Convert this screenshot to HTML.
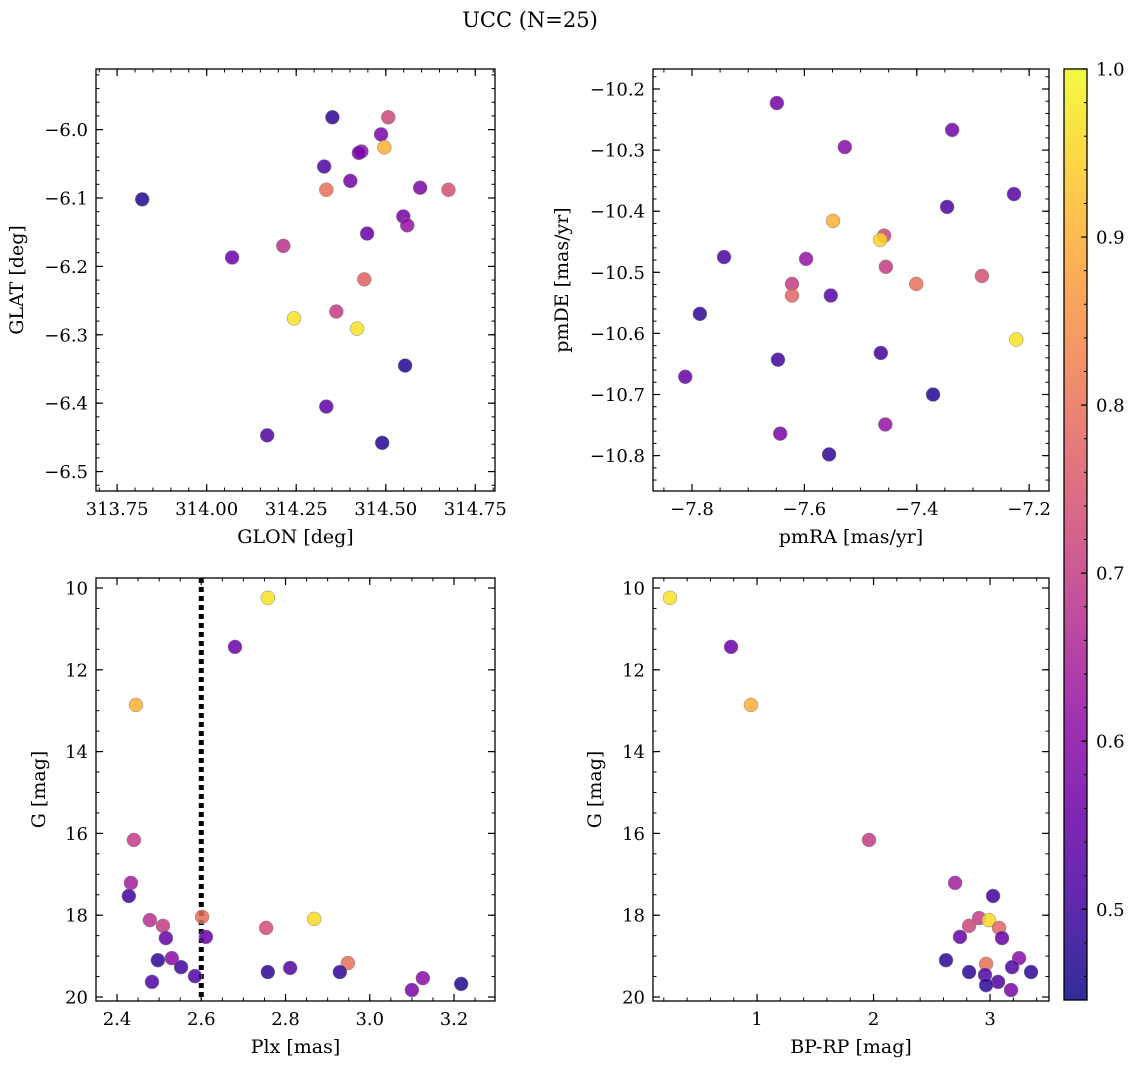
<!DOCTYPE html>
<html><head><meta charset="utf-8">
<style>
html,body{margin:0;padding:0;background:#fff;}
svg{display:block;font-family:"DejaVu Serif","Liberation Serif",serif;}
</style></head>
<body>
<svg id="fig" width="1136" height="1068" viewBox="0 0 1136 1068" xmlns="http://www.w3.org/2000/svg">
<text x="530" y="27" text-anchor="middle" font-size="21">UCC (N=25)</text>
</svg>
<script>
// ---- data (panel 1: GLON/GLAT) ----
const glon = [313.820,314.351,314.507,314.487,314.432,314.496,314.328,314.401,314.334,314.596,314.675,314.549,314.560,314.448,314.214,314.071,314.440,314.244,314.362,314.420,314.554,314.334,314.169,314.490,314.425];
const glat = [-6.102,-5.982,-5.982,-6.007,-6.032,-6.026,-6.054,-6.075,-6.088,-6.085,-6.088,-6.127,-6.140,-6.152,-6.170,-6.187,-6.219,-6.276,-6.266,-6.291,-6.345,-6.405,-6.447,-6.458,-6.034];
const c1 = [0.47,0.48,0.72,0.58,0.60,0.90,0.52,0.57,0.80,0.58,0.74,0.57,0.62,0.55,0.68,0.56,0.77,0.97,0.70,0.97,0.47,0.54,0.52,0.47,0.58];
// ---- panel 2: pmRA/pmDE ----
const pmra = [-7.649,-7.528,-7.337,-7.227,-7.346,-7.549,-7.458,-7.465,-7.743,-7.597,-7.455,-7.622,-7.284,-7.622,-7.401,-7.553,-7.786,-7.223,-7.647,-7.464,-7.812,-7.371,-7.643,-7.456,-7.556];
const pmde = [-10.223,-10.295,-10.267,-10.372,-10.393,-10.416,-10.440,-10.447,-10.475,-10.478,-10.491,-10.519,-10.506,-10.538,-10.519,-10.538,-10.568,-10.610,-10.643,-10.632,-10.671,-10.700,-10.764,-10.749,-10.798];
const c2 = [0.57,0.60,0.57,0.53,0.52,0.90,0.72,0.95,0.52,0.62,0.70,0.70,0.74,0.78,0.80,0.53,0.48,0.97,0.50,0.50,0.55,0.47,0.58,0.62,0.48];
// ---- panel 3: Plx/G ----
const plx = [2.758,2.680,2.445,2.440,2.433,2.428,2.478,2.509,2.602,2.868,2.754,2.516,2.611,2.530,2.497,2.552,2.948,2.811,2.585,2.758,2.929,3.126,2.483,3.100,3.217];
const gmag3 = [10.24,11.44,12.86,16.16,17.21,17.53,18.12,18.26,18.04,18.09,18.31,18.56,18.53,19.05,19.10,19.27,19.17,19.29,19.49,19.39,19.39,19.54,19.63,19.83,19.68];
const c3 = [0.97,0.56,0.90,0.70,0.64,0.50,0.68,0.70,0.79,0.96,0.73,0.55,0.55,0.60,0.48,0.50,0.80,0.52,0.52,0.48,0.48,0.60,0.52,0.58,0.47];
const plxLine = [2.60];
// ---- panel 4: BP-RP/G ----
const bprp = [0.253,0.777,0.948,1.961,2.700,3.026,2.906,2.991,2.820,3.077,2.742,3.103,2.622,3.249,2.966,3.189,2.820,3.352,2.957,3.069,2.966,3.180];
const gmag4 = [10.24,11.44,12.86,16.16,17.21,17.53,18.07,18.12,18.26,18.31,18.53,18.56,19.10,19.05,19.19,19.27,19.39,19.39,19.46,19.63,19.71,19.83];
const c4 = [0.97,0.56,0.90,0.70,0.64,0.50,0.70,0.96,0.72,0.78,0.55,0.55,0.48,0.60,0.80,0.52,0.48,0.48,0.52,0.52,0.48,0.58];
// ---- tick labels ----
const ticks1x = [313.75,314.00,314.25,314.50,314.75];
const ticks1y = [-6.0,-6.1,-6.2,-6.3,-6.4,-6.5];
const ticks2x = [-7.8,-7.6,-7.4,-7.2];
const ticks2y = [-10.2,-10.3,-10.4,-10.5,-10.6,-10.7,-10.8];
const ticks3x = [2.4,2.6,2.8,3.0,3.2];
const ticksG = [10,12,14,16,18,20];
const ticks4x = [1,2,3];
const ticksCb = [0.5,0.6,0.7,0.8,0.9,1.0];
const cmin = 0.446, cmax = 1.0;

const NS="http://www.w3.org/2000/svg";
const svg=document.getElementById('fig');
function mk(tag,attrs,parent){const e=document.createElementNS(NS,tag);for(const k in attrs)e.setAttribute(k,attrs[k]);(parent||svg).appendChild(e);return e;}
const stops=[[13,8,135],[65,4,157],[106,0,168],[143,13,164],[177,42,144],[204,71,120],[225,100,98],[242,132,75],[252,166,54],[252,206,37],[240,249,33]];
function plasma(t){t=Math.max(0,Math.min(1,t));const f=t*10,i=Math.min(9,Math.floor(f)),r=f-i;const a=stops[i],b=stops[i+1];
return `rgb(${Math.round(a[0]+(b[0]-a[0])*r)},${Math.round(a[1]+(b[1]-a[1])*r)},${Math.round(a[2]+(b[2]-a[2])*r)})`;}
function cnorm(v){return (v-cmin)/(cmax-cmin);}
function fmt(v,d){return (v<0?'\u2212':'')+Math.abs(v).toFixed(d);}

function panel(o){
  const {name,L,R,T,B,x0,x1,y0,y1,xs,ys,cs,xt,yt,xd,yd,xminor,yminor,xlabel,ylabel,ylx}=o;
  const sx=v=>L+(v-x0)/(x1-x0)*(R-L);
  const sy=v=>T+(v-y0)/(y1-y0)*(B-T);
  const g=mk('g',{});
  
  
  const step=(a,b,s,fn)=>{const n=Math.ceil(Math.min(a,b)/s-1e-6);for(let k=n;k*s<=Math.max(a,b)+1e-9;k++)fn(k*s);};
  step(x0,x1,xminor,v=>{const x=sx(v);mk('line',{x1:x,x2:x,y1:B,y2:B-3.5,stroke:'#000','stroke-width':1},g);mk('line',{x1:x,x2:x,y1:T,y2:T+3.5,stroke:'#000','stroke-width':1},g);});
  step(y0,y1,yminor,v=>{const y=sy(v);mk('line',{x1:L,x2:L+3.5,y1:y,y2:y,stroke:'#000','stroke-width':1},g);mk('line',{x1:R,x2:R-3.5,y1:y,y2:y,stroke:'#000','stroke-width':1},g);});
  xt.forEach(v=>{const x=sx(v);
    mk('line',{x1:x,x2:x,y1:B,y2:B-7,stroke:'#000','stroke-width':1.2},g);mk('line',{x1:x,x2:x,y1:T,y2:T+7,stroke:'#000','stroke-width':1.2},g);
    const t=mk('text',{x:x,y:B+24,'text-anchor':'middle','font-size':18},g);t.textContent=fmt(v,xd);
    
    });
  yt.forEach(v=>{const y=sy(v);
    mk('line',{x1:L,x2:L+7,y1:y,y2:y,stroke:'#000','stroke-width':1.2},g);mk('line',{x1:R,x2:R-7,y1:y,y2:y,stroke:'#000','stroke-width':1.2},g);
    const t=mk('text',{x:L-8,y:y+6.5,'text-anchor':'end','font-size':18},g);t.textContent=fmt(v,yd);
    
    });
  if(o.vline){o.vline.forEach(v=>{const ln=mk('line',{x1:sx(v),x2:sx(v),y1:T,y2:B,stroke:'#000','stroke-width':5,'stroke-dasharray':'5,4'},g);
    
    });}
  xs.forEach((v,i)=>{const c=mk('circle',{cx:sx(v),cy:sy(ys[i]),r:7,fill:plasma(cnorm(cs[i])),'fill-opacity':0.85,stroke:'#888','stroke-width':0.5},g);
    
    });
  const fr=mk('rect',{x:L,y:T,width:R-L,height:B-T,fill:'none',stroke:'#000','stroke-width':1.3},g);
  
  
  const xl=mk('text',{x:(L+R)/2,y:B+52,'text-anchor':'middle','font-size':19},g);xl.textContent=xlabel;
  
  
  const cy=(T+B)/2;
  const yl=mk('text',{x:ylx,y:cy,'text-anchor':'middle','font-size':19,transform:`rotate(-90 ${ylx} ${cy})`},g);yl.textContent=ylabel;
  
  
}
panel({name:'glon-glat',L:96,R:495,T:69,B:491,x0:313.691,x1:314.805,y0:-5.9114,y1:-6.5284,xs:glon,ys:glat,cs:c1,xt:ticks1x,yt:ticks1y,xd:2,yd:1,xminor:0.05,yminor:0.02,xlabel:'GLON [deg]',ylabel:'GLAT [deg]',ylx:23});
panel({name:'pm',L:653,R:1049,T:69,B:491,x0:-7.8694,x1:-7.1647,y0:-10.1673,y1:-10.8579,xs:pmra,ys:pmde,cs:c2,xt:ticks2x,yt:ticks2y,xd:1,yd:1,xminor:0.05,yminor:0.02,xlabel:'pmRA [mas/yr]',ylabel:'pmDE [mas/yr]',ylx:568});
panel({name:'plx-g',L:96,R:495,T:578,B:1001,x0:2.3501,x1:3.2973,y0:9.7555,y1:20.0978,xs:plx,ys:gmag3,cs:c3,xt:ticks3x,yt:ticksG,xd:1,yd:0,xminor:0.05,yminor:0.5,xlabel:'Plx [mas]',ylabel:'G [mag]',ylx:45,vline:plxLine});
panel({name:'cmd',L:653,R:1049,T:578,B:1001,x0:0.107,x1:3.506,y0:9.7555,y1:20.0978,xs:bprp,ys:gmag4,cs:c4,xt:ticks4x,yt:ticksG,xd:0,yd:0,xminor:0.2,yminor:0.5,xlabel:'BP-RP [mag]',ylabel:'G [mag]',ylx:601});
(function(){
  const L=1064,R=1087,T=69,B=1000;
  const g=mk('g',{});
  
  
  const defs=mk('defs',{},g);
  const lg=mk('linearGradient',{id:'cb',x1:0,y1:1,x2:0,y2:0},defs);
  for(let i=0;i<=20;i++){mk('stop',{offset:(i/20),'stop-color':plasma(i/20),'stop-opacity':0.85},lg);}
  mk('rect',{x:L,y:T,width:R-L,height:B-T,fill:'url(#cb)'},g);
  const sy=v=>B-(v-cmin)/(cmax-cmin)*(B-T);
  for(let k=Math.ceil(cmin/0.02);k*0.02<=cmax+1e-9;k++){const y=sy(k*0.02);mk('line',{x1:R,x2:R-3,y1:y,y2:y,stroke:'#000','stroke-width':1},g);}
  ticksCb.forEach(v=>{const y=sy(v);mk('line',{x1:R,x2:R-6,y1:y,y2:y,stroke:'#000','stroke-width':1.2},g);
    const t=mk('text',{x:R+9,y:y+6.5,'font-size':18},g);t.textContent=v.toFixed(1);
    
    });
  mk('rect',{x:L,y:T,width:R-L,height:B-T,fill:'none',stroke:'#000','stroke-width':1.3},g);
})();
</script>
</body></html>
